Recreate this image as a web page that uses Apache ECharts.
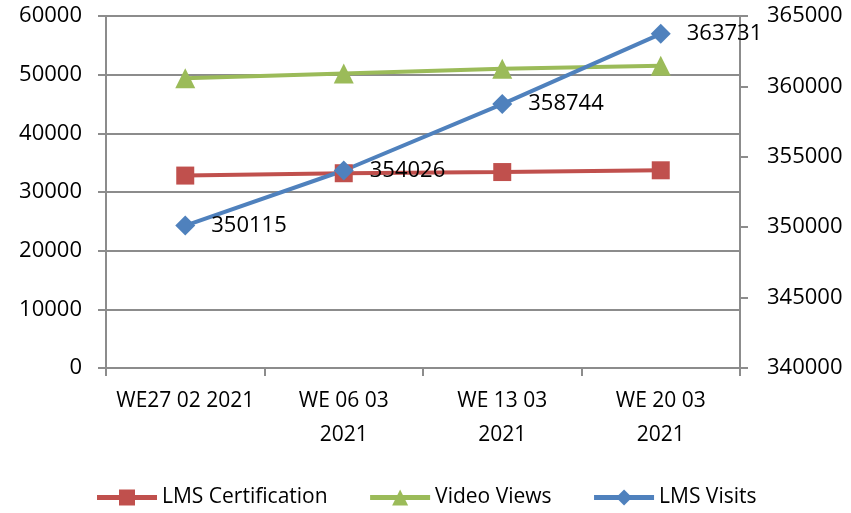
<!DOCTYPE html>
<html>
<head>
<meta charset="utf-8">
<script src="https://cdn.jsdelivr.net/npm/echarts@6/dist/echarts.min.js"></script>
<style>
  html, body { margin: 0; padding: 0; background: #fff; }
  #chart { width: 851px; height: 513px; }
</style>
</head>
<body>
<div id="chart"></div>
<script>
const weeks = ['WE27 02 2021', 'WE 06 03\n2021', 'WE 13 03\n2021', 'WE 20 03\n2021']
const certification = [32800, 33200, 33400, 33700]
const videoViews = [49400, 50200, 51000, 51500]
const lmsVisits = [350115, 354026, 358744, 363731]

const font = 'Open Sans'
const grey = '#8c8c8c'

const chart = echarts.init(document.getElementById('chart'))

const plain = (v) => String(v)

const options = {
  animation: false,
  textStyle: { fontFamily: font },
  grid: { left: 106, right: 111, top: 16, bottom: 145 },
  legend: {
    bottom: 0,
    itemWidth: 60,
    itemHeight: 20,
    itemGap: 40,
    lineStyle: { width: 5 },
    textStyle: { fontSize: 21, color: '#000', fontFamily: font },
    data: ['LMS Certification', 'Video Views', 'LMS Visits']
  },
  xAxis: {
    type: 'category',
    data: weeks,
    boundaryGap: true,
    axisLine: { lineStyle: { color: grey, width: 2 } },
    axisTick: { show: true, length: 8, lineStyle: { color: grey, width: 2 } },
    axisLabel: { color: '#000', fontSize: 21, lineHeight: 34, margin: 16, interval: 0 }
  },
  yAxis: [
    {
      type: 'value',
      min: 0,
      max: 60000,
      interval: 10000,
      axisLine: { show: true, lineStyle: { color: grey, width: 2 } },
      axisTick: { show: true, length: 8, lineStyle: { color: grey, width: 2 } },
      splitLine: { lineStyle: { color: grey, width: 2 } },
      axisLabel: { color: '#000', fontSize: 22, margin: 24, formatter: plain }
    },
    {
      type: 'value',
      min: 340000,
      max: 365000,
      interval: 5000,
      axisLine: { show: true, lineStyle: { color: grey, width: 2 } },
      axisTick: { show: true, length: 8, lineStyle: { color: grey, width: 2 } },
      splitLine: { show: false },
      axisLabel: { color: '#000', fontSize: 22, margin: 27, formatter: plain }
    }
  ],
  series: [
    {
      name: 'LMS Certification',
      type: 'line',
      yAxisIndex: 0,
      data: certification,
      color: '#c0504d',
      symbol: 'rect',
      symbolSize: 18,
      lineStyle: { width: 4 }
    },
    {
      name: 'Video Views',
      type: 'line',
      yAxisIndex: 0,
      data: videoViews,
      color: '#9bbb59',
      symbol: 'triangle',
      symbolSize: 20,
      lineStyle: { width: 4 }
    },
    {
      name: 'LMS Visits',
      type: 'line',
      yAxisIndex: 1,
      data: lmsVisits,
      color: '#4f81bd',
      symbol: 'diamond',
      symbolSize: 20,
      lineStyle: { width: 4 },
      label: {
        show: true,
        position: 'right',
        distance: 16,
        color: '#000',
        fontSize: 22,
        fontFamily: font
      }
    }
  ]
}

chart.setOption(options)
</script>
</body>
</html>
